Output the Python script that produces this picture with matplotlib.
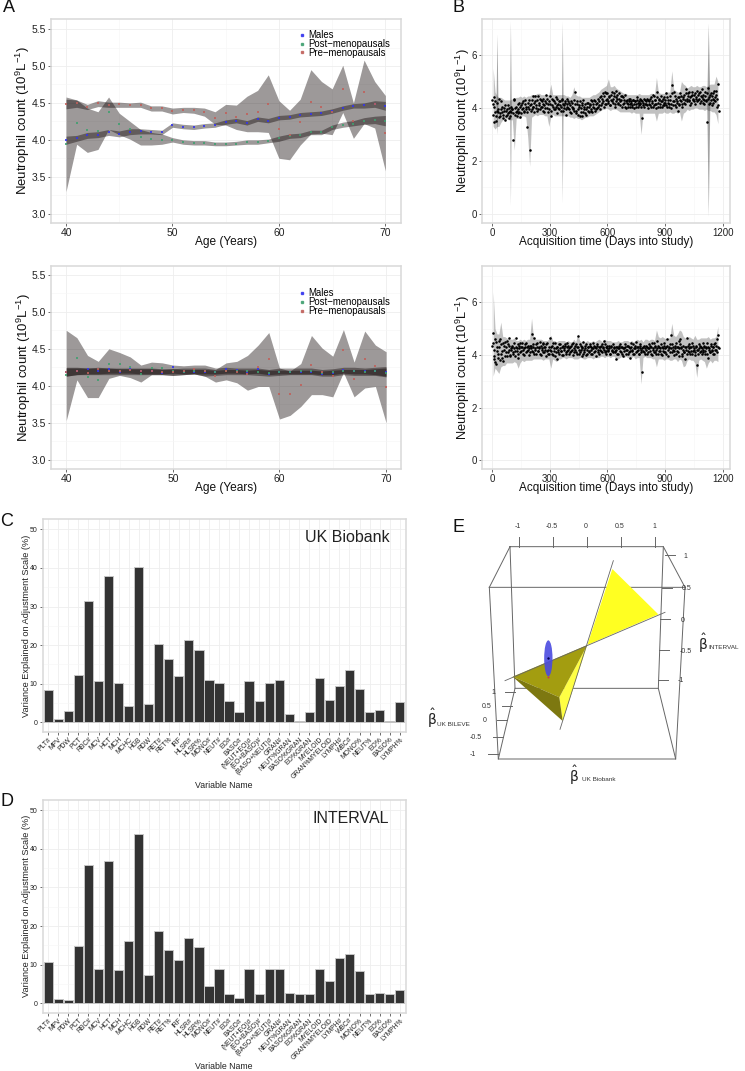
import matplotlib
matplotlib.use("Agg")
import matplotlib.pyplot as plt
from matplotlib.lines import Line2D
from matplotlib.patches import Ellipse, Polygon

plt.rcParams['font.family'] = ['Liberation Sans', 'DejaVu Sans']
plt.rcParams['mathtext.default'] = 'regular'

# ---------- Panel A data ----------
ages = list(range(40, 71))
a1_male = [4.00,4.02,4.06,4.07,4.10,4.08,4.11,4.12,4.11,4.10,4.20,4.18,4.17,4.19,4.20,4.24,4.26,4.23,4.28,4.26,4.30,4.31,4.34,4.35,4.36,4.39,4.43,4.46,4.47,4.49,4.46]
a1_post = [3.95,4.23,4.13,4.12,4.38,4.22,4.14,4.04,4.01,4.00,4.00,3.97,3.96,3.96,3.94,3.94,3.95,3.97,3.97,3.98,4.02,4.05,4.06,4.10,4.10,4.17,4.20,4.22,4.25,4.27,4.26]
a1_pre = [4.48,4.50,4.45,4.50,4.47,4.48,4.47,4.47,4.43,4.43,4.39,4.40,4.40,4.38,4.29,4.37,4.31,4.35,4.38,4.49,4.14,4.06,4.24,4.51,4.44,4.38,4.69,4.26,4.65,4.49,4.09]
a1_male_hi = [4.05,4.06,4.10,4.11,4.14,4.12,4.15,4.15,4.14,4.13,4.23,4.21,4.20,4.22,4.23,4.27,4.29,4.26,4.31,4.29,4.33,4.34,4.37,4.38,4.39,4.42,4.46,4.49,4.50,4.53,4.52]
a1_male_lo = [3.94,3.98,4.02,4.03,4.06,4.04,4.07,4.08,4.08,4.07,4.17,4.15,4.14,4.16,4.17,4.21,4.23,4.20,4.25,4.23,4.27,4.28,4.31,4.32,4.33,4.36,4.40,4.43,4.43,4.44,4.40]
a1_post_hi = [4.58,4.54,4.43,4.38,4.58,4.36,4.25,4.14,4.10,4.08,4.03,4.00,3.99,3.99,3.97,3.97,3.98,4.00,4.00,4.01,4.05,4.08,4.09,4.13,4.13,4.20,4.24,4.26,4.30,4.32,4.33]
a1_post_lo = [3.30,3.94,3.83,3.87,4.14,4.07,4.01,3.93,3.93,3.94,3.97,3.94,3.93,3.93,3.92,3.92,3.93,3.94,3.94,3.96,3.98,4.02,4.03,4.07,4.07,4.14,4.17,4.19,4.21,4.22,4.19]
a1_pre_hi = [4.55,4.54,4.48,4.53,4.51,4.51,4.50,4.51,4.46,4.46,4.43,4.44,4.44,4.43,4.38,4.48,4.47,4.59,4.67,4.88,4.53,4.40,4.55,4.95,4.79,4.69,5.01,4.50,5.08,4.79,4.60]
a1_pre_lo = [4.42,4.44,4.41,4.45,4.44,4.44,4.44,4.44,4.39,4.39,4.35,4.37,4.36,4.32,4.21,4.20,4.14,4.11,4.11,4.10,3.75,3.73,3.93,4.08,4.09,4.07,4.37,4.02,4.22,4.16,3.58]

a2_male = [4.18,4.20,4.23,4.20,4.23,4.19,4.22,4.20,4.20,4.17,4.25,4.19,4.18,4.19,4.18,4.22,4.21,4.18,4.22,4.16,4.19,4.19,4.19,4.19,4.16,4.17,4.21,4.20,4.20,4.20,4.18]
a2_post = [4.14,4.37,4.12,4.08,4.30,4.30,4.25,4.16,4.24,4.24,4.20,4.19,4.20,4.20,4.18,4.20,4.20,4.20,4.18,4.17,4.19,4.19,4.20,4.20,4.17,4.19,4.20,4.20,4.18,4.20,4.17]
a2_pre = [4.19,4.20,4.17,4.22,4.20,4.20,4.21,4.20,4.20,4.18,4.18,4.20,4.22,4.20,4.13,4.20,4.18,4.16,4.26,4.36,3.89,3.89,4.01,4.28,4.19,4.13,4.48,4.09,4.36,4.27,3.98]
a2_male_hi = [4.24,4.24,4.24,4.24,4.24,4.23,4.23,4.23,4.23,4.22,4.23,4.22,4.22,4.22,4.21,4.22,4.22,4.21,4.22,4.21,4.21,4.21,4.21,4.21,4.20,4.21,4.22,4.22,4.22,4.23,4.24]
a2_male_lo = [4.13,4.15,4.16,4.16,4.17,4.17,4.17,4.16,4.16,4.16,4.17,4.16,4.16,4.16,4.16,4.17,4.17,4.16,4.17,4.15,4.16,4.16,4.16,4.16,4.15,4.15,4.17,4.16,4.16,4.15,4.13]
a2_post_hi = [4.75,4.65,4.41,4.33,4.50,4.45,4.39,4.28,4.32,4.31,4.28,4.27,4.28,4.28,4.24,4.25,4.24,4.24,4.24,4.22,4.24,4.24,4.24,4.24,4.22,4.23,4.25,4.25,4.24,4.25,4.26]
a2_post_lo = [3.53,4.08,3.84,3.84,4.10,4.14,4.11,4.05,4.15,4.15,4.14,4.15,4.16,4.13,4.14,4.15,4.15,4.15,4.14,4.13,4.14,4.15,4.15,4.15,4.13,4.13,4.15,4.14,4.14,4.14,4.12]
a2_pre_hi = [4.25,4.25,4.24,4.25,4.24,4.24,4.24,4.24,4.24,4.23,4.23,4.24,4.24,4.24,4.22,4.31,4.33,4.41,4.55,4.72,4.24,4.20,4.30,4.68,4.51,4.40,4.76,4.32,4.74,4.55,4.46]
a2_pre_lo = [4.13,4.15,4.15,4.15,4.15,4.15,4.15,4.15,4.15,4.15,4.14,4.15,4.16,4.13,4.05,4.08,4.04,3.94,3.99,3.99,3.55,3.60,3.72,3.88,3.88,3.85,4.18,3.85,3.97,3.99,3.50]

# ---------- Panel B data ----------
days = list(range(0, 1181, 5))
days_alt = list(range(2, 1178, 5))
b1_values = [
 4.30,3.75,4.42,4.25,3.50,3.90,3.85,4.35,3.70,3.95,4.05,3.62,3.88,4.10,3.70,3.95,3.80,3.60,4.00,3.90,
 3.85,3.95,2.77,4.35,3.75,4.05,3.90,3.80,4.20,3.65,4.10,3.95,4.25,3.85,4.15,3.95,3.28,4.05,4.30,2.41,
 4.15,3.95,4.45,4.05,3.85,4.25,4.10,3.90,4.45,4.20,3.95,4.30,4.05,4.15,3.85,4.25,4.50,4.00,4.15,3.95,
 4.45,3.70,4.10,4.30,3.95,4.20,4.05,3.80,4.35,4.15,3.95,4.25,4.05,4.30,3.90,4.10,4.20,3.72,4.35,4.00,
 4.20,3.85,4.25,4.05,3.95,4.30,4.60,3.90,4.15,3.75,4.05,4.25,3.85,4.10,3.70,4.30,3.95,4.15,3.75,4.05,
 4.20,3.85,4.10,3.95,4.25,4.05,4.30,3.90,4.15,4.00,4.35,4.10,3.95,4.45,4.20,4.55,4.05,4.60,4.30,4.15,
 4.55,4.25,4.40,4.10,4.30,4.60,4.20,4.45,4.05,4.65,4.35,4.15,4.55,4.25,4.45,4.05,4.40,4.20,4.50,4.00,
 4.30,4.15,4.25,4.05,4.35,4.20,4.10,4.30,4.00,4.25,4.15,4.40,4.05,4.25,4.15,4.30,3.60,4.20,4.05,4.30,
 4.15,4.35,4.00,4.25,4.10,4.40,4.20,4.05,4.45,4.15,4.30,4.00,4.60,4.20,4.35,4.05,4.45,4.25,4.10,4.40,
 4.20,4.55,4.05,4.30,4.15,4.45,4.00,4.87,4.25,4.60,4.10,4.35,4.20,3.90,4.40,4.15,4.55,4.25,4.05,4.35,
 4.50,4.15,4.70,4.35,4.55,4.25,4.10,4.45,4.60,4.30,4.50,4.15,4.40,4.65,4.30,4.55,4.20,4.45,4.70,4.35,
 4.50,4.15,4.60,4.30,3.48,4.75,4.40,4.20,4.55,4.10,4.35,4.65,4.25,4.50,4.05,4.90,3.90]
b1_values_alt = [
 4.15,3.45,4.05,3.85,3.70,4.20,3.95,3.65,3.80,4.25,3.85,3.75,4.00,3.55,3.90,3.75,4.10,3.85,3.70,4.05,
 3.95,3.80,4.30,4.00,3.85,3.70,4.15,3.95,3.85,4.05,3.80,4.20,4.00,3.90,4.30,4.05,3.85,4.20,3.95,4.10,
 3.90,4.30,4.05,4.20,4.45,4.00,4.30,3.95,4.10,4.35,4.05,4.25,3.90,4.35,4.10,4.00,4.20,4.35,3.85,4.25,
 4.15,3.90,4.35,4.05,4.25,3.95,4.40,4.10,4.00,4.25,4.10,3.90,4.35,4.15,4.00,4.25,3.95,4.15,4.05,4.25,
 3.95,4.10,3.80,4.20,4.00,3.90,4.15,3.80,4.25,3.95,4.10,3.70,4.00,4.20,3.85,4.05,3.80,3.95,4.20,3.90,
 4.05,4.15,3.90,4.30,3.85,4.15,4.00,4.25,3.95,4.20,4.05,4.25,4.40,4.10,4.35,4.25,4.45,4.15,4.55,4.35,
 4.20,4.45,4.10,4.50,4.25,4.35,4.55,4.15,4.40,4.25,4.50,4.20,4.35,4.10,4.30,4.45,4.15,4.30,4.05,4.25,
 4.20,4.05,4.35,4.15,4.25,4.05,4.30,4.15,4.25,4.05,4.30,4.20,4.10,4.35,4.20,4.05,4.25,4.10,4.35,4.15,
 4.25,4.10,4.30,4.15,4.35,4.05,4.25,4.50,4.10,4.30,4.15,4.40,4.05,4.30,4.15,4.25,4.05,4.35,4.20,4.10,
 4.30,4.10,4.40,4.20,4.05,4.30,4.15,4.55,4.10,4.25,4.45,4.05,4.25,4.40,4.10,4.30,4.45,4.15,4.40,4.20,
 4.30,4.55,4.25,4.45,4.30,4.60,4.40,4.20,4.50,4.35,4.25,4.55,4.35,4.25,4.50,4.35,4.60,4.25,4.40,4.20,
 4.30,4.45,4.25,4.55,4.35,4.15,4.50,4.30,4.45,4.20,4.55,4.30,4.40,4.65,4.35,4.10]
b2_values = [
 4.35,4.85,3.85,4.60,3.65,4.30,4.05,4.55,3.80,4.40,4.15,3.78,4.35,4.50,4.10,3.95,4.40,4.20,4.65,4.00,
 4.20,4.30,4.05,4.45,4.15,4.65,4.25,3.90,4.35,4.10,4.30,4.45,4.05,4.25,4.40,4.10,4.30,4.20,4.00,4.35,
 4.25,4.78,4.10,4.40,4.65,4.20,4.05,4.45,4.15,4.30,4.50,4.00,4.25,4.40,4.10,4.30,3.95,4.45,4.20,4.05,
 4.65,4.15,4.35,4.00,4.25,4.45,4.10,3.85,4.30,4.20,4.05,4.40,4.15,4.30,4.00,4.25,4.35,4.10,4.45,4.20,
 4.05,4.30,4.15,4.40,4.00,4.25,4.35,4.10,4.30,4.72,4.05,4.40,4.20,3.98,4.30,4.50,4.10,4.25,4.40,4.05,
 4.30,4.15,4.40,4.05,4.25,4.45,4.10,4.30,3.98,4.35,4.20,4.05,4.30,4.15,4.40,4.25,4.55,4.10,4.30,4.05,
 4.35,4.15,4.25,4.05,4.35,4.20,4.10,4.30,4.15,3.85,4.30,4.05,4.25,4.40,4.10,4.30,3.98,4.25,4.40,4.05,
 4.20,4.35,4.10,4.25,3.90,4.30,4.15,4.40,4.05,4.25,4.50,4.15,4.30,4.05,4.35,4.20,3.35,4.30,4.10,4.25,
 4.35,4.05,4.25,4.40,4.15,4.30,4.00,4.25,4.45,4.10,4.35,4.20,4.55,4.05,4.30,4.15,4.40,4.00,4.25,4.45,
 4.10,4.30,4.60,3.95,4.25,4.40,4.75,4.10,4.30,4.00,4.25,4.45,4.15,4.30,3.98,4.55,4.60,4.25,4.05,4.35,
 4.10,3.85,4.30,4.65,4.15,4.40,4.05,4.30,4.45,4.15,4.25,4.00,4.35,3.62,4.20,4.40,4.10,4.30,4.05,4.45,
 4.20,4.35,4.05,4.30,4.45,3.90,4.25,4.10,4.40,4.20,4.30,4.05,4.45,4.20,4.60,4.75,4.25]
b2_values_alt = [
 4.45,3.95,4.20,3.75,4.50,4.15,3.90,4.30,4.60,4.05,3.90,4.45,4.20,3.95,4.30,4.55,4.10,4.35,3.95,4.25,
 4.35,4.10,4.25,3.95,4.30,4.15,4.40,4.05,4.25,4.45,4.15,4.30,4.20,4.00,4.30,4.45,4.15,4.35,4.25,4.10,
 4.35,4.15,4.30,4.05,4.25,4.40,4.30,4.15,4.25,4.05,4.35,4.20,4.45,4.10,4.30,4.20,4.40,4.15,4.05,4.30,
 4.20,4.30,4.05,4.45,4.15,3.98,4.25,4.30,4.10,4.40,4.25,4.15,4.00,4.35,4.20,4.40,4.05,4.30,4.15,4.35,
 4.25,4.10,4.35,4.20,4.45,4.10,4.20,4.40,4.05,4.30,4.20,4.10,4.35,4.25,4.05,4.20,4.35,4.00,4.20,4.30,
 4.10,4.35,4.20,4.30,4.05,4.25,4.35,4.15,4.25,4.40,4.10,4.30,4.20,4.35,4.10,4.30,4.20,4.40,4.15,4.25,
 4.20,4.35,4.05,4.30,4.15,4.40,4.25,4.10,4.30,4.20,4.05,4.25,4.35,4.15,4.30,4.05,4.25,4.15,4.30,4.20,
 4.35,4.05,4.30,4.15,4.45,4.20,4.05,4.25,4.35,4.10,4.30,4.20,4.05,4.25,4.40,4.10,4.25,4.15,4.35,4.05,
 4.20,4.30,4.10,4.25,4.35,4.05,4.45,4.20,4.10,4.30,4.05,4.25,4.35,4.15,4.25,4.05,4.30,4.15,4.35,4.10,
 4.25,4.05,4.35,4.20,4.30,4.10,4.25,4.40,4.20,4.15,4.35,4.05,4.30,4.10,4.25,4.40,4.30,3.95,4.20,4.10,
 4.30,4.20,4.05,4.35,4.25,4.10,4.30,4.15,4.05,4.35,4.20,4.10,4.30,4.20,4.05,4.25,4.35,4.15,4.25,4.10,
 4.30,4.15,4.25,4.05,4.30,4.20,4.10,4.35,4.15,4.30,4.05,4.40,4.20,4.35,4.10,4.30]
band_days = list(range(5, 1176, 10))
b1_upper = [
 5.5,4.6,4.45,4.4,4.4,4.35,4.3,4.3,4.3,4.3,
 4.35,4.35,4.4,4.4,4.45,4.4,4.45,4.4,4.45,4.45,
 4.5,4.5,4.5,4.55,4.55,4.5,4.5,4.5,4.5,4.5,
 4.9,4.5,4.5,4.5,4.5,4.5,4.5,4.5,4.45,4.45,
 4.4,4.5,4.8,4.5,4.45,4.45,4.4,4.4,4.4,4.4,
 4.4,4.45,4.5,4.5,4.55,4.6,4.7,4.75,4.8,4.85,
 5.1,4.8,4.8,4.85,4.75,4.7,4.65,4.6,4.55,4.55,
 4.5,4.5,4.5,4.5,4.5,4.5,4.55,4.5,4.5,4.5,
 4.5,4.5,4.55,4.55,4.5,5.15,4.6,4.55,4.55,4.55,
 4.6,4.6,4.6,5.4,4.7,4.65,4.6,4.6,5.0,4.9,
 4.85,4.75,4.8,4.85,4.8,4.8,4.85,4.8,4.8,4.85,
 4.85,4.8,4.85,4.9,4.9,4.9,5.2,5.0]
b1_lower = [
 3.3,3.2,3.3,3.3,3.45,3.55,3.55,3.6,3.55,3.55,
 3.55,2.4,3.6,3.6,3.6,3.7,3.7,3.65,2.9,1.8,
 3.65,3.7,3.75,3.7,3.75,3.75,3.75,3.7,3.7,3.3,
 3.7,3.75,3.7,3.7,3.7,3.7,3.7,3.7,3.7,3.7,
 3.65,3.65,3.6,3.65,3.6,3.6,3.55,3.6,3.65,3.65,
 3.7,3.7,3.7,3.75,3.8,3.85,3.9,3.95,3.95,4.0,
 3.95,3.9,3.95,3.95,3.95,3.9,3.85,3.85,3.85,3.85,
 3.85,3.85,3.8,3.85,3.8,3.8,3.8,3.0,3.8,3.8,
 3.8,3.8,3.8,3.8,3.8,3.5,3.8,3.8,3.8,3.85,
 3.8,3.8,3.85,3.8,3.8,3.85,3.8,3.85,3.5,3.8,
 3.85,3.95,3.9,3.95,3.95,4.0,4.0,3.95,3.95,3.95,
 3.9,3.95,3.9,3.9,3.85,3.85,3.75,3.4]
b1_spike_days = [25, 95, 365, 1125]
b1_spike_hi = [6.8, 7.3, 7.3, 7.2]
b1_spike_lo = [3.0, 0.3, 0.4, -0.1]
b1_spike_half = [5, 4, 4, 8]
b2_upper = [
 6.4,5.0,4.8,4.8,5.25,4.7,4.7,4.65,4.6,4.6,
 4.6,4.65,4.55,4.55,4.6,4.55,4.6,4.55,4.6,4.6,
 5.4,4.65,4.6,4.6,4.6,4.6,4.55,4.55,4.55,4.6,
 4.75,4.55,4.55,4.5,4.55,4.55,4.55,4.55,4.5,4.55,
 4.5,4.5,4.6,4.5,4.8,4.55,4.5,4.5,4.5,4.55,
 4.5,4.5,4.55,4.5,4.55,4.6,4.55,4.5,4.6,4.55,
 4.55,4.55,4.5,4.5,4.5,4.55,4.5,4.5,4.55,4.55,
 4.55,4.5,4.55,4.5,4.55,4.6,4.55,4.6,4.5,4.6,
 4.6,4.55,4.6,4.6,4.55,4.95,4.7,4.65,4.7,4.65,
 4.6,4.65,4.65,5.2,4.75,4.7,4.8,4.95,4.9,4.7,
 4.65,4.6,4.7,4.65,4.6,4.75,4.6,4.6,4.65,4.65,
 4.65,4.65,4.7,4.6,4.65,4.65,4.7,5.1]
b2_lower = [
 3.2,3.5,3.4,3.3,3.55,3.6,3.6,3.7,3.7,3.7,
 3.7,3.75,3.7,3.5,3.7,3.8,3.75,3.8,3.8,3.8,
 3.8,3.85,3.85,3.85,3.85,3.85,3.8,3.85,3.85,3.85,
 3.5,3.85,3.8,3.75,3.85,3.85,3.9,3.9,3.85,3.9,
 3.9,3.9,3.85,3.85,3.85,3.9,3.9,3.85,3.85,3.9,
 3.9,3.9,3.85,3.9,3.9,3.9,3.95,3.95,3.9,3.95,
 3.95,3.9,3.95,3.95,3.85,3.85,3.9,3.95,3.9,3.95,
 3.9,3.9,3.9,3.95,3.85,3.9,3.9,2.9,3.9,3.95,
 3.9,3.9,3.9,3.85,3.85,3.55,3.85,3.85,3.85,3.8,
 3.85,3.85,3.8,3.8,3.85,3.85,3.75,3.85,3.8,3.55,
 3.6,3.8,3.85,3.8,3.8,3.7,3.15,3.8,3.85,3.8,
 3.75,3.5,3.7,3.8,3.7,3.8,3.8,3.75]

# ---------- Panels C, D data ----------
variables = ['PLT#','MPV','PDW','PCT','RBC#','MCV','HCT','MCH','MCHC','HGB','RDW','RET#','RET%','IRF',
             'HLSR#','HLSR%','MONO#','NEUT#','EO#','BASO#','(NEUT+EO)#','(EO+BASO)#','(BASO+NEUT)#','GRAN#',
             'NEUT%GRAN','BASO%GRAN','EO%GRAN','MYELOID','GRAN%MYELOID','LYMPH#','WBC#','MONO%','NEUT%','EO%','BASO%','LYMPH%']
ukb_var = [8.5,0.9,2.9,12.3,31.5,10.8,38.0,10.3,4.2,40.3,4.8,20.2,16.3,11.9,21.4,18.7,10.9,10.2,5.4,2.8,10.6,5.6,10.3,10.9,2.1,0.4,2.8,11.6,5.8,9.5,13.5,8.6,2.8,3.1,0.4,5.2]
interval_var = [10.8,1.0,0.8,14.9,35.8,8.9,36.7,8.7,16.0,43.7,7.4,18.8,13.9,11.1,17.0,14.6,4.4,8.9,2.4,1.5,9.0,2.3,8.9,9.0,2.7,2.4,2.5,8.9,5.7,11.7,12.7,8.4,2.5,2.6,2.4,3.5]

# ---------- Panel E data (positions on the panel's own drawing plane) ----------
box_front_x = [148,735,707,175,148]
box_front_y = [232,232,747,747,232]
box_back_x = [210,670,655,225,210]
box_back_y = [110,110,535,535,110]
e_top_ticks = [237,338,440,542,645]
e_top_labels = ['-1','-0.5','0','0.5','1']
e_right_y = [135,235,328,421,510]
e_right_x0 = [675,665,660,658,655]
e_right_labx = [737,740,727,737,722]
e_right_laby = [138,236,332,424,513]
e_right_labels = ['1','0.5','0','-0.5','-1']
e_left_y = [545,587,629,680,733]
e_left_x0 = [225,215,200,190,175]
e_left_labx = [160,140,135,107,97]
e_left_labels = ['1','0.5','0','-0.5','-1']
tri_upper = [(442,405),(517,177),(655,313)]
tri_lower = [(442,405),(218,500),(358,562)]
tri_dark = [(218,500),(358,562),(368,633)]
tri_side = [(442,405),(358,562),(368,633)]

W, H = 745, 1071
fig = plt.figure(figsize=(W/100, H/100), dpi=100, facecolor='white')

def make_ax(l, t, r, b):
    return fig.add_axes([l/W, 1-b/H, (r-l)/W, (b-t)/H])

def style(ax, xt, yt, xm, ym, tick_fs, border='#d9d9d9'):
    ax.set_xticks(xt); ax.set_yticks(yt)
    ax.set_xticks(xm, minor=True); ax.set_yticks(ym, minor=True)
    ax.grid(True, which='major', color='#eeeeee', lw=0.6)
    ax.grid(True, which='minor', color='#f6f6f6', lw=0.4)
    ax.set_axisbelow(True)
    ax.tick_params(which='minor', length=0)
    ax.tick_params(which='major', length=2.2, width=0.6, color='#555555', labelsize=tick_fs, labelcolor='#222222', pad=1.5)
    for s in ax.spines.values():
        s.set_color(border); s.set_linewidth(1.1)

NEUT = r'Neutrophil count (10$^{9}$L$^{-1}$)'
BAND = dict(color='#0a0000', alpha=0.4, lw=0)

def panel_a(box, ylim, xlim, male, post, pre, bands, legend_y):
    ax = make_ax(*box)
    for lo, hi in bands:
        ax.fill_between(ages, lo, hi, **BAND)
    ax.scatter(ages, male, s=4, marker='s', color='#3333ee', alpha=0.85, lw=0, zorder=3)
    ax.scatter(ages, post, s=4, marker='s', color='#3f9f6f', alpha=0.85, lw=0, zorder=3)
    ax.scatter(ages, pre, s=4, marker='s', color='#c0605a', alpha=0.85, lw=0, zorder=3)
    ax.set_xlim(*xlim); ax.set_ylim(*ylim)
    style(ax, [40,50,60,70], [3.0,3.5,4.0,4.5,5.0,5.5], [45,55,65], [3.25,3.75,4.25,4.75,5.25], 7.5)
    ax.set_xlabel('Age (Years)', fontsize=8.6, labelpad=-1.5, color='#111111')
    ax.set_ylabel(NEUT, fontsize=9.5, labelpad=-0.6, color='#111111')
    handles = [Line2D([],[],ls='',marker='s',ms=1.8,color=c,alpha=0.85) for c in ('#3333ee','#3f9f6f','#c0605a')]
    ax.legend(handles, ['Males','Post\u2212menopausals','Pre\u2212menopausals'], frameon=False, fontsize=6.9,
              loc='upper left', bbox_to_anchor=(0.70, legend_y), labelspacing=-0.12, handletextpad=0.0,
              handlelength=1.3, borderpad=0, borderaxespad=0)
    return ax

panel_a((51,19,401,223), (2.874,5.636), (38.59,71.47), a1_male, a1_post, a1_pre,
        [(a1_male_lo,a1_male_hi),(a1_post_lo,a1_post_hi),(a1_pre_lo,a1_pre_hi)], 0.946)
panel_a((51.3,266,401,469.3), (2.87,5.62), (38.6,71.4), a2_male, a2_post, a2_pre,
        [(a2_male_lo,a2_male_hi),(a2_post_lo,a2_post_hi),(a2_pre_lo,a2_pre_hi)], 0.89)

def panel_b(box, ylim, vals, vals_alt, up, lo, spikes=()):
    ax = make_ax(*box)
    ax.fill_between(band_days, lo, up, color='#333333', alpha=0.3, lw=0)
    for d, hi, low, half in spikes:
        ax.fill_between([d-half, d, d+half], [4.2, low, 4.2], [4.2, hi, 4.2], color='#333333', alpha=0.45, lw=0)
    ax.scatter(days, vals, s=3.4, color='black', lw=0, zorder=3)
    ax.scatter(days_alt, vals_alt, s=3.4, color='black', lw=0, zorder=3)
    ax.set_xlim(-53,1238); ax.set_ylim(*ylim)
    style(ax, [0,300,600,900,1200], [0,2,4,6], [150,450,750,1050], [1,3,5,7], 7)
    ax.set_xlabel('Acquisition time (Days into study)', fontsize=8.5, labelpad=-1.5, color='#111111')
    ax.set_ylabel(NEUT, fontsize=9.3, labelpad=-0.8, color='#111111')

panel_b((482,19,730,223), (-0.35,7.36), b1_values, b1_values_alt, b1_upper, b1_lower,
        list(zip(b1_spike_days, b1_spike_hi, b1_spike_lo, b1_spike_half)))
panel_b((482,266,730,469.3), (-0.34,7.38), b2_values, b2_values_alt, b2_upper, b2_lower)

def panel_bar(box, vals, title, tx):
    ax = make_ax(*box)
    ax.bar(range(len(variables)), vals, width=0.92, color='#333333', edgecolor='#c4c4c4', lw=0.7, zorder=3)
    ax.set_xlim(-0.56,35.6); ax.set_ylim(-2.43,52.6)
    style(ax, range(36), [0,10,20,30,40,50], [], [5,15,25,35,45], 5)
    ax.set_xticklabels(variables, rotation=45, ha='right', rotation_mode='anchor', fontsize=4.9)
    ax.tick_params(axis='x', pad=1)
    ax.set_xlabel('Variable Name', fontsize=6.3, labelpad=0.5, color='#222222')
    ax.set_ylabel('Variance Explained on Adjustment Scale (%)', fontsize=6.6, labelpad=-1, color='#222222')
    ax.text(tx, 0.915, title, transform=ax.transAxes, ha='right', va='center', fontsize=11.5, color='#222222')

panel_bar((42.7,519.3,405.7,731.7), ukb_var, 'UK Biobank', 0.955)
panel_bar((42.7,800,405.7,1012.7), interval_var, 'INTERVAL', 0.955)

# Panel E
axe = make_ax(440,510,745,800)
axe.set_xlim(0,915); axe.set_ylim(870,0); axe.axis('off')
GL = dict(color='#666666', lw=0.7, zorder=1)
axe.plot(box_back_x, box_back_y, **GL)
axe.plot(box_front_x, box_front_y, **GL)
for i in range(4):
    axe.plot([box_back_x[i],box_front_x[i]],[box_back_y[i],box_front_y[i]], **GL)
for x, lab in zip(e_top_ticks, e_top_labels):
    axe.plot([x,x],[110,80], **GL)
    axe.text(x-3, 50, lab, ha='center', va='center', fontsize=5, color='#333333')
for x0, y, lx, ly, lab in zip(e_right_x0, e_right_y, e_right_labx, e_right_laby, e_right_labels):
    axe.plot([x0,x0+30],[y,y], **GL)
    axe.text(lx, ly, lab, ha='center', va='center', fontsize=5, color='#333333')
for x0, y, lx, lab in zip(e_left_x0, e_left_y, e_left_labx, e_left_labels):
    axe.plot([x0-30,x0],[y,y], **GL)
    axe.text(lx, y+2, lab, ha='center', va='center', fontsize=5, color='#333333')
axe.add_patch(Polygon(tri_upper, color='#ffff22', lw=0, zorder=2))
axe.add_patch(Polygon(tri_side, color='#ffff44', lw=0, zorder=2))
axe.add_patch(Polygon(tri_lower, color='#a39d10', lw=0, zorder=3))
axe.add_patch(Polygon(tri_dark, color='#7d7810', lw=0, zorder=3))
axe.plot([520,360],[152,658], color='#666666', lw=0.6, zorder=4)
axe.plot([675,195],[307,512], color='#666666', lw=0.6, zorder=4)
axe.add_patch(Ellipse((325,445), 25, 108, color='#4a4ae0', alpha=0.9, lw=0, zorder=5))
axe.scatter([325],[445], s=3, color='#000055', zorder=6, lw=0)
axe.scatter([325],[500], s=2, color='#d03050', zorder=4, lw=0)
def beta(x, y, lx, ly, lab):
    axe.text(x, y, r'$\hat{\beta}$', fontsize=10, ha='center', va='center', color='#222222', family='DejaVu Sans')
    axe.text(lx, ly, lab, fontsize=4.6, ha='center', va='center', color='#333333')
beta(402,795,476,808,'UK Biobank')
beta(790,400,850,412,'INTERVAL')
beta(-24,624,40,642,'UK BILEVE')

# Panel letters
for lab, x, y in [('A',3,7),('B',452,7),('C',0,522),('D',0,802),('E',452,527)]:
    fig.text(x/W, 1-y/H, lab, fontsize=13, va='center', ha='left', color='#111111')

fig.savefig('out.png', dpi=100)
